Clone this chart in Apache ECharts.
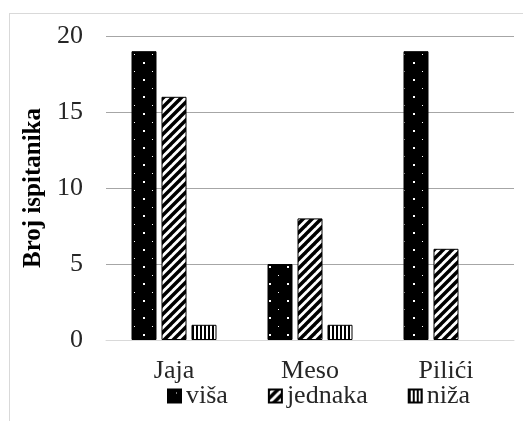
<!DOCTYPE html>
<html>
<head>
<meta charset="utf-8">
<script src="https://cdn.jsdelivr.net/npm/echarts@6/dist/echarts.min.js"></script>
<style>
html,body{margin:0;padding:0;background:#fff;}
#frame{position:absolute;left:9px;top:13px;width:520px;height:420px;border-left:1px solid #d9d9d9;border-top:1px solid #d9d9d9;}
#chart{position:absolute;left:0;top:0;width:523px;height:421px;}
</style>
</head>
<body>
<div id="frame"></div>
<div id="chart"></div>
<script>
var categories = ['Jaja', 'Meso', 'Pilići'];
var seriesNames = ['viša', 'jednaka', 'niža'];
var visaValues = [19, 5, 19];
var jednakaValues = [16, 8, 6];
var nizaValues = [1, 1, 0];
var yTicks = [0, 5, 10, 15, 20];

function makeTile(w, h, draw) {
  var c = document.createElement('canvas');
  c.width = w; c.height = h;
  var ctx = c.getContext('2d');
  draw(ctx, w, h);
  return c;
}
var dotsTile = makeTile(18, 17, function (ctx, w, h) {
  ctx.fillStyle = '#000'; ctx.fillRect(0, 0, w, h);
  ctx.fillStyle = '#fff';
  ctx.fillRect(8, 3, 1, 1);
  ctx.fillRect(17, 11, 2, 2);
  ctx.fillRect(0, 11, 1, 2);
});
var diagTile = makeTile(9, 9, function (ctx, w, h) {
  ctx.fillStyle = '#fff'; ctx.fillRect(0, 0, w, h);
  ctx.strokeStyle = '#000'; ctx.lineWidth = 3.5;
  for (var k = -1; k <= 1; k++) {
    ctx.beginPath();
    ctx.moveTo(k * w - 1, h + 1);
    ctx.lineTo(k * w + w + 1, -1);
    ctx.stroke();
  }
});
var vertTile = makeTile(4, 4, function (ctx, w, h) {
  ctx.fillStyle = '#fff'; ctx.fillRect(0, 0, w, h);
  ctx.fillStyle = '#000'; ctx.fillRect(0, 0, 2, h);
});

var font = '"Liberation Serif", "Times New Roman", serif';
var chart = echarts.init(document.getElementById('chart'));
function barSeries(name, data, tile) {
  return {
    name: name,
    type: 'bar',
    data: data.map(function (v) {
      return v === 0 ? { value: v, itemStyle: { borderWidth: 0, opacity: 0 } } : v;
    }),
    barWidth: 25,
    barGap: '20%',
    itemStyle: {
      color: { image: tile, repeat: 'repeat' },
      borderColor: '#000',
      borderWidth: 1
    }
  };
}
chart.setOption({
  animation: false,
  grid: { left: 106, right: 9, top: 36, bottom: 81 },
  legend: {
    data: seriesNames,
    left: 167,
    top: 383,
    padding: 0,
    itemWidth: 13,
    itemHeight: 13,
    itemGap: 40,
    textStyle: { fontFamily: font, fontSize: 26, color: '#262626' },
    icon: 'rect'
  },
  xAxis: {
    type: 'category',
    data: categories,
    axisLine: { lineStyle: { color: '#d9d9d9', width: 1 } },
    axisTick: { show: false },
    axisLabel: { fontFamily: font, fontSize: 26, color: '#262626', margin: 18 }
  },
  yAxis: {
    type: 'value',
    min: yTicks[0],
    max: yTicks[yTicks.length - 1],
    interval: 5,
    name: 'Broj ispitanika',
    nameLocation: 'middle',
    nameGap: 60,
    nameTextStyle: { fontFamily: font, fontSize: 25, fontWeight: 'bold', color: '#000' },
    axisLine: { show: false },
    axisTick: { show: false },
    splitLine: { lineStyle: { color: '#a6a6a6', width: 1 } },
    axisLabel: { fontFamily: font, fontSize: 26, color: '#262626', margin: 23 }
  },
  series: [
    barSeries(seriesNames[0], visaValues, dotsTile),
    barSeries(seriesNames[1], jednakaValues, diagTile),
    barSeries(seriesNames[2], nizaValues, vertTile)
  ]
});
</script>
</body>
</html>
